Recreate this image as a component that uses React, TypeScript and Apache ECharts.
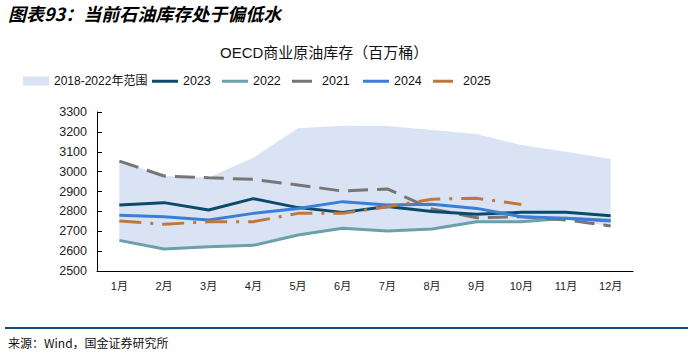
import React, { useEffect, useRef } from "react";
import * as echarts from "echarts";

const months = ["1月", "2月", "3月", "4月", "5月", "6月", "7月", "8月", "9月", "10月", "11月", "12月"];
const rangeUpper = [3053, 2978, 2970, 3070, 3218, 3231, 3229, 3209, 3189, 3134, 3100, 3064];
const rangeLower = [2654, 2611, 2622, 2629, 2681, 2715, 2701, 2711, 2748, 2748, 2757, 2726];
const s2023 = [2832, 2844, 2807, 2864, 2819, 2795, 2824, 2799, 2785, 2795, 2795, 2778];
const s2022 = [2654, 2611, 2622, 2629, 2681, 2715, 2701, 2711, 2748, 2748, 2765, 2755];
const s2021 = [3053, 2978, 2969, 2961, 2933, 2902, 2913, 2812, 2768, 2773, 2757, 2726];
const s2024 = [2780, 2773, 2757, 2790, 2815, 2849, 2832, 2836, 2815, 2773, 2765, 2752];
const s2025 = [2752, 2735, 2748, 2748, 2790, 2790, 2823, 2861, 2866, 2835, null, null];

const FONT = "'Liberation Sans', Arial, 'Noto Sans CJK SC', sans-serif";

export default function App() {
  const ref = useRef<HTMLDivElement>(null);
  useEffect(() => {
    document.body.style.margin = "0";
    const chart = echarts.init(ref.current!, null, { renderer: "svg" });
    const rangeDiff = rangeUpper.map((v, i) => v - rangeLower[i]);
    const lineLegend = (name: string, left: number, w: number, pad: number) => ({
      data: [{ name, icon: "rect" }],
      left,
      top: 75,
      padding: 0,
      itemWidth: w,
      itemHeight: 3,
      textStyle: { fontSize: 12.5, color: "#111", fontFamily: FONT, padding: [0, 0, 0, pad] },
      selectedMode: false,
    });
    const option: any = {
      animation: false,
      backgroundColor: "#fff",
      grid: { left: 97, right: 58, top: 112, bottom: 84 },
      legend: [
        {
          data: [{ name: "2018-2022年范围", icon: "rect" }],
          left: 23,
          top: 75,
          padding: 0,
          itemWidth: 26,
          itemHeight: 9,
          textStyle: { fontSize: 12, color: "#111", fontFamily: FONT },
          selectedMode: false,
        },
        lineLegend("2023", 152, 26, 0),
        lineLegend("2022", 222, 26, 0),
        lineLegend("2021", 292, 20, 5),
        lineLegend("2024", 363, 26, 0),
        lineLegend("2025", 433, 20, 5),
      ],
      xAxis: {
        type: "category",
        data: months,
        boundaryGap: true,
        axisLine: { lineStyle: { color: "#000", width: 1 } },
        axisTick: { inside: true, length: 5, lineStyle: { color: "#000" } },
        axisLabel: { fontSize: 11, color: "#222", margin: 9, fontFamily: FONT },
        splitLine: { show: false },
      },
      yAxis: {
        type: "value",
        min: 2500,
        max: 3300,
        interval: 100,
        axisLine: { show: true, lineStyle: { color: "#000", width: 1 } },
        axisTick: { show: true, inside: true, length: 5, lineStyle: { color: "#000" } },
        axisLabel: {
          fontSize: 12.5,
          color: "#222",
          margin: 10,
          fontFamily: FONT,
          formatter: (v: number) => String(v),
        },
        splitLine: { show: false },
      },
      graphic: [
        {
          type: "text",
          left: 8,
          top: 4,
          style: {
            text: "图表93：当前石油库存处于偏低水",
            font: "italic bold 18px 'Noto Sans CJK SC', sans-serif",
            fill: "#000",
          },
        },
        {
          type: "text",
          left: 220,
          top: 45,
          style: {
            text: "OECD商业原油库存（百万桶）",
            font: "15px 'Liberation Sans', Arial, 'Noto Sans CJK SC', sans-serif",
            fill: "#111",
          },
        },
        {
          type: "line",
          shape: { x1: 5, y1: 328, x2: 688, y2: 328 },
          style: { stroke: "#0d4e7a", lineWidth: 2 },
        },
        {
          type: "text",
          left: 8,
          top: 336,
          style: {
            text: "来源：Wind，国金证券研究所",
            font: "12px 'Noto Sans CJK SC', sans-serif",
            fill: "#111",
          },
        },
      ],
      series: [
        {
          name: "rangeBase",
          type: "line",
          stack: "range",
          data: rangeLower,
          showSymbol: false,
          lineStyle: { opacity: 0 },
          silent: true,
          z: 1,
        },
        {
          name: "2018-2022年范围",
          type: "line",
          stack: "range",
          data: rangeDiff,
          showSymbol: false,
          lineStyle: { opacity: 0 },
          itemStyle: { color: "#dae3f3" },
          areaStyle: { color: "#dae3f3", opacity: 1 },
          silent: true,
          z: 1,
        },
        {
          name: "2023",
          type: "line",
          data: s2023,
          showSymbol: false,
          itemStyle: { color: "#0b4a6b" },
          lineStyle: { color: "#0b4a6b", width: 3 },
          z: 5,
        },
        {
          name: "2022",
          type: "line",
          data: s2022,
          showSymbol: false,
          itemStyle: { color: "#6aa0aa" },
          lineStyle: { color: "#6aa0aa", width: 3 },
          z: 3,
        },
        {
          name: "2021",
          type: "line",
          data: s2021,
          showSymbol: false,
          itemStyle: { color: "#767676" },
          lineStyle: { color: "#767676", width: 3, type: [20, 9] },
          z: 4,
        },
        {
          name: "2024",
          type: "line",
          data: s2024,
          showSymbol: false,
          itemStyle: { color: "#3a7fd5" },
          lineStyle: { color: "#3a7fd5", width: 3 },
          z: 6,
        },
        {
          name: "2025",
          type: "line",
          data: s2025,
          showSymbol: false,
          connectNulls: false,
          itemStyle: { color: "#c0773c" },
          lineStyle: { color: "#c0773c", width: 3, type: [22, 9, 3, 9] },
          z: 7,
        },
      ],
    };
    chart.setOption(option);
    return () => chart.dispose();
  }, []);
  return <div ref={ref} style={{ width: 691, height: 355, position: "fixed", left: 0, top: 0 }} />;
}
